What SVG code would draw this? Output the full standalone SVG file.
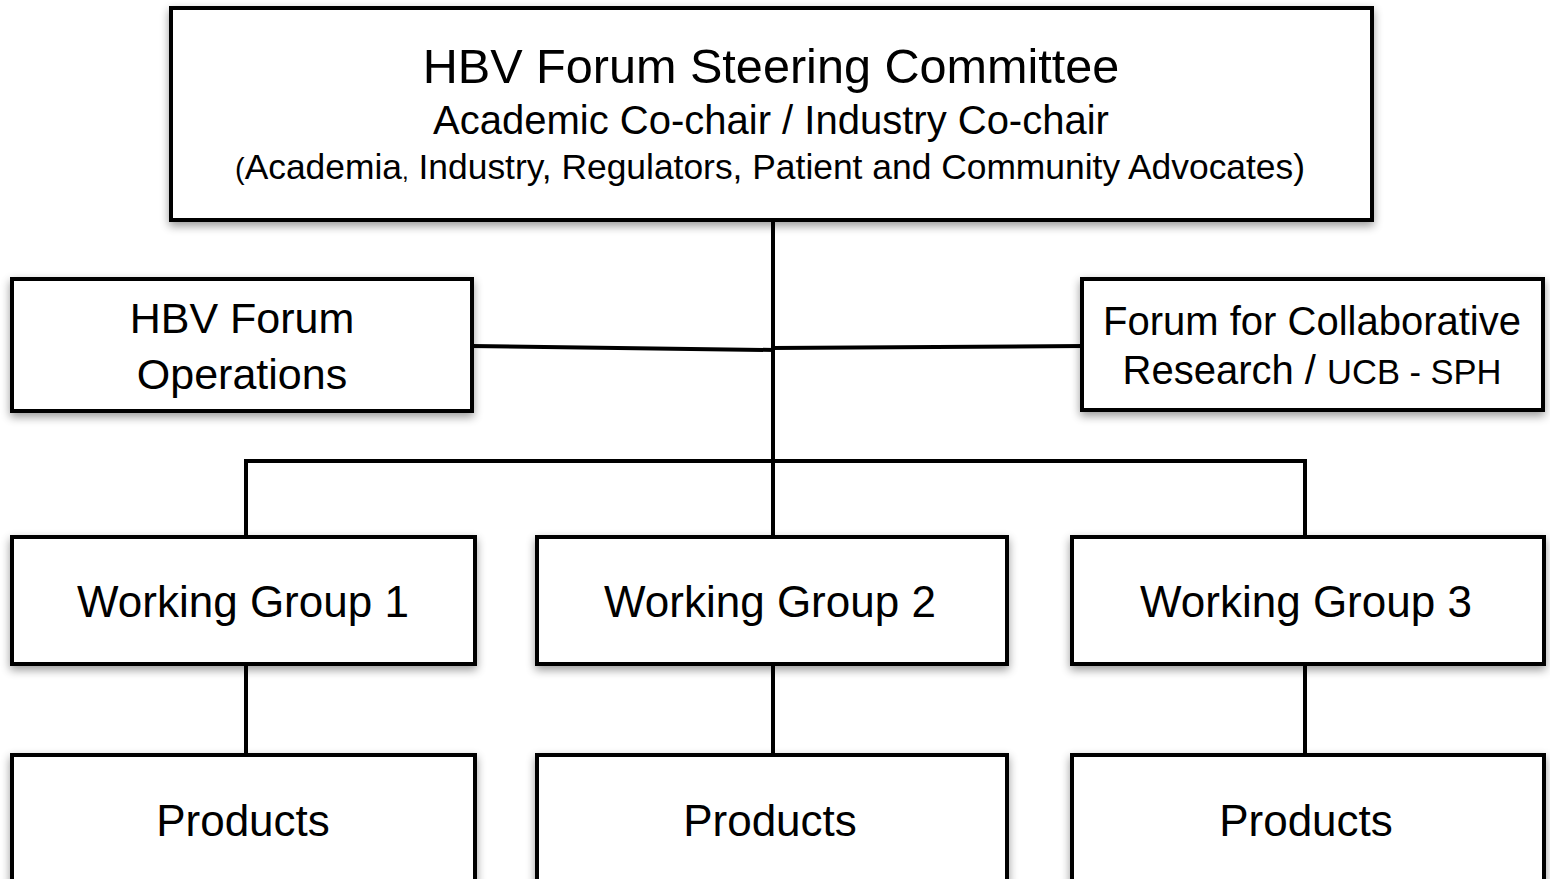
<svg xmlns="http://www.w3.org/2000/svg" width="1550" height="879" viewBox="0 0 1550 879">
<style>
.box{fill:#fff;stroke:#000;stroke-width:4;filter:url(#sh)}
.t{font-family:"Liberation Sans",Arial,Helvetica,sans-serif;fill:#000;text-anchor:middle}
.c{fill:none;stroke:#000;stroke-width:4;stroke-linecap:square}
</style>
<defs>
<filter id="sh" x="-10%" y="-20%" width="120%" height="150%">
<feGaussianBlur in="SourceAlpha" stdDeviation="5"/>
<feOffset dx="0" dy="4" result="b"/>
<feComponentTransfer><feFuncA type="linear" slope="0.4"/></feComponentTransfer>
<feMerge><feMergeNode/><feMergeNode in="SourceGraphic"/></feMerge>
</filter>
</defs>
<rect width="1550" height="879" fill="#fff"/>
<g id="connectors">
<line class="c" x1="773" y1="220" x2="773" y2="537"/>
<line class="c" x1="472" y1="346" x2="773" y2="350"/>
<line class="c" x1="773" y1="348" x2="1082" y2="346"/>
<polyline class="c" points="246,537 246,461 1305,461 1305,537"/>
<line class="c" x1="246" y1="664" x2="246" y2="755"/>
<line class="c" x1="773" y1="664" x2="773" y2="755"/>
<line class="c" x1="1305" y1="664" x2="1305" y2="755"/>
</g>
<g id="steering">
<rect class="box" x="171" y="8" width="1201" height="212"/>
<text class="t" x="771" y="83" font-size="48.6">HBV Forum Steering Committee</text>
<text class="t" x="771" y="134" font-size="40">Academic Co-chair / Industry Co-chair</text>
<text class="t" x="770" y="179" font-size="35.4"><tspan font-size="29">(</tspan>Academia<tspan font-size="24">,</tspan> Industry, Regulators, Patient and Community Advocates)</text>
</g>
<g id="operations">
<rect class="box" x="12" y="279" width="460" height="132"/>
<text class="t" x="242" y="333" font-size="43">HBV Forum</text>
<text class="t" x="242" y="389" font-size="43">Operations</text>
</g>
<g id="fcr">
<rect class="box" x="1082" y="279" width="461" height="131"/>
<text class="t" x="1312" y="335" font-size="40">Forum for Collaborative</text>
<text class="t" x="1312" y="384" font-size="40">Research / <tspan font-size="34.5">UCB - SPH</tspan></text>
</g>
<g id="wg1">
<rect class="box" x="12" y="537" width="463" height="127"/>
<text class="t" x="243" y="617" font-size="44">Working Group 1</text>
</g>
<g id="wg2">
<rect class="box" x="537" y="537" width="470" height="127"/>
<text class="t" x="770" y="617" font-size="44">Working Group 2</text>
</g>
<g id="wg3">
<rect class="box" x="1072" y="537" width="472" height="127"/>
<text class="t" x="1306" y="617" font-size="44">Working Group 3</text>
</g>
<g id="products1">
<rect class="box" x="12" y="755" width="463" height="160"/>
<text class="t" x="243" y="836" font-size="44">Products</text>
</g>
<g id="products2">
<rect class="box" x="537" y="755" width="470" height="160"/>
<text class="t" x="770" y="836" font-size="44">Products</text>
</g>
<g id="products3">
<rect class="box" x="1072" y="755" width="472" height="160"/>
<text class="t" x="1306" y="836" font-size="44">Products</text>
</g>
</svg>
